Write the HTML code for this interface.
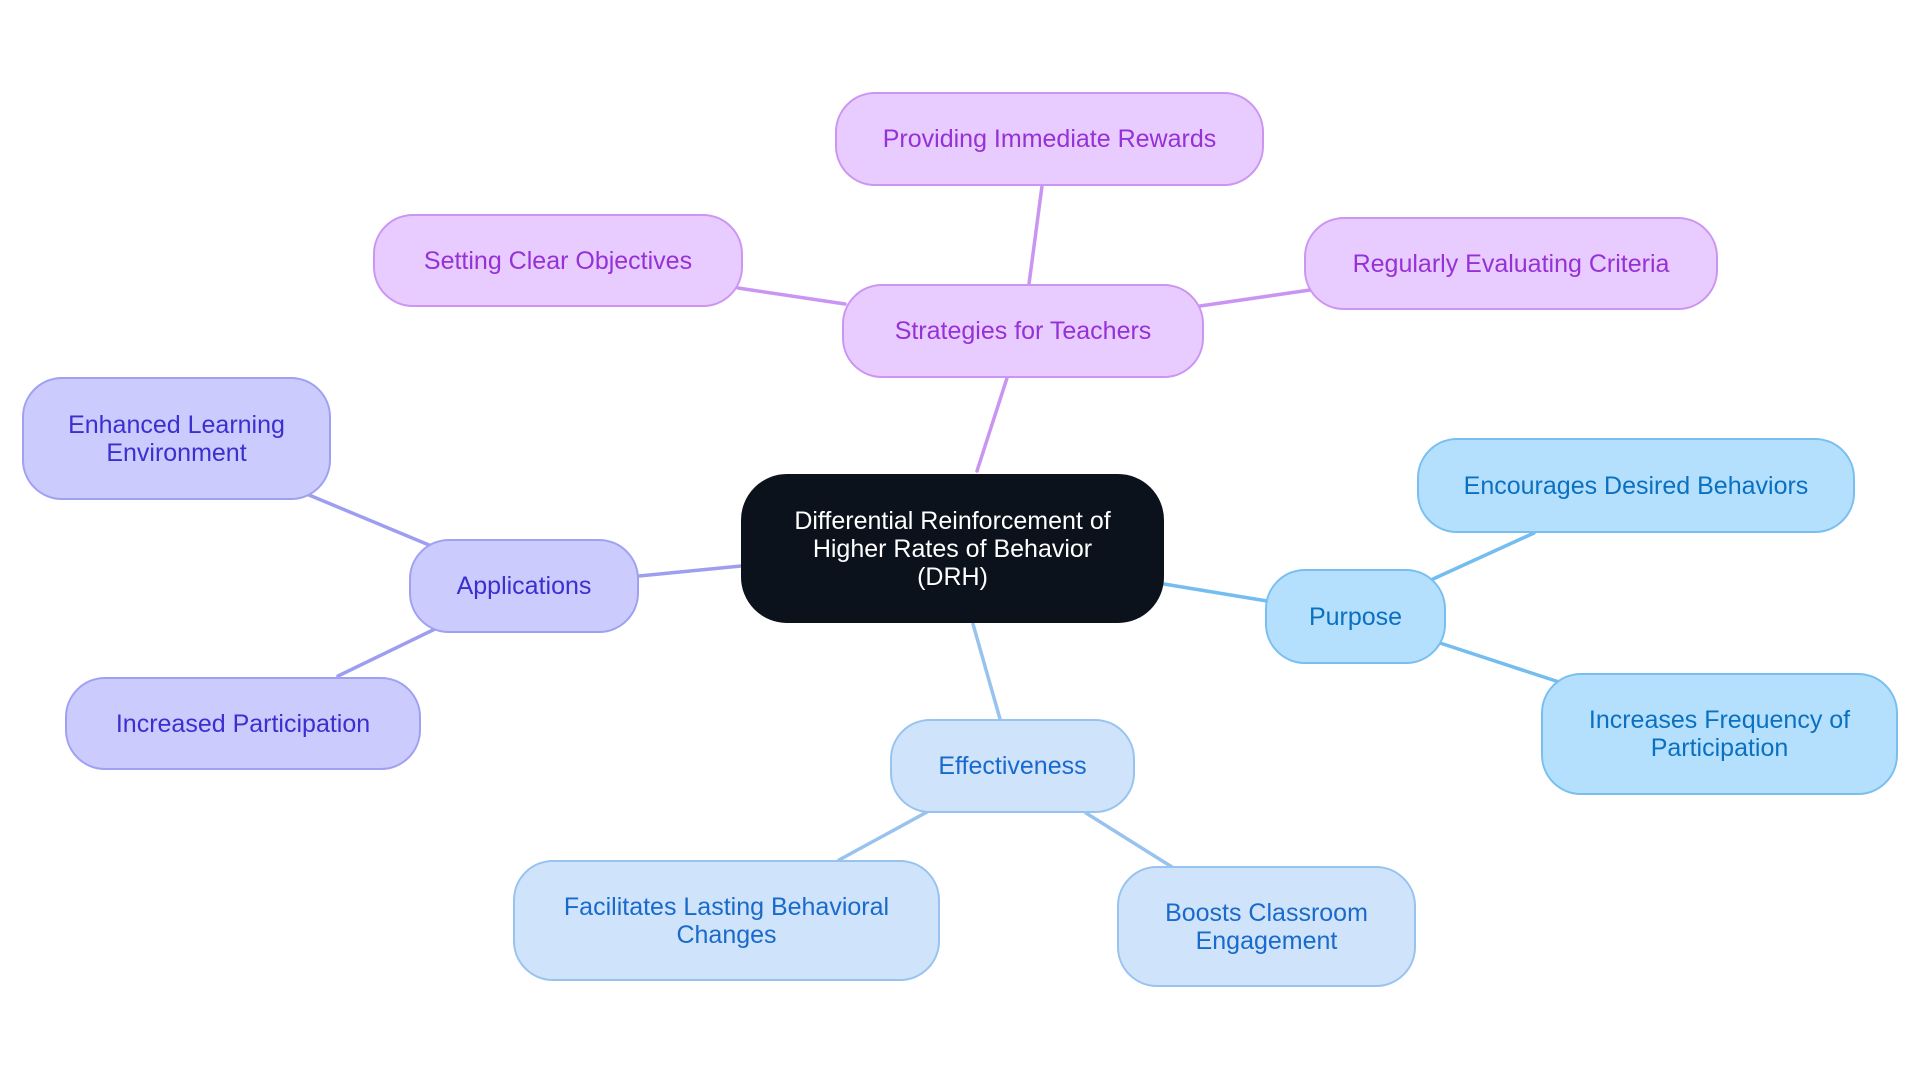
<!DOCTYPE html>
<html><head><meta charset="utf-8"><style>
html,body{margin:0;padding:0;background:#fff;}
body{width:1920px;height:1083px;position:relative;overflow:hidden;font-family:"Liberation Sans",sans-serif;}
svg{position:absolute;left:0;top:0;}
.n{position:absolute;box-sizing:border-box;display:flex;align-items:center;justify-content:center;text-align:center;font-size:25px;line-height:28px;border-radius:40px;border:2px solid;}
.p{background:#e8ccff;border-color:#cc95f2;color:#9531d6;}
.i{background:#cbcbfd;border-color:#a0a0f2;color:#3b2fcf;}
.b{background:#b5e0fd;border-color:#78bff0;color:#0b70c0;}
.l{background:#cfe3fb;border-color:#98c3ef;color:#196acb;}
.c{background:#0b121b;border-color:#0b121b;color:#fff;border-radius:46px;}
</style></head><body>
<svg width="1920" height="1083" stroke-width="3.5" fill="none" stroke-linecap="round">
<g stroke="#c995f2">
<line x1="977" y1="471" x2="1007" y2="378"/>
<line x1="1029" y1="284" x2="1042" y2="186"/>
<line x1="845" y1="304" x2="738" y2="288"/>
<line x1="1200" y1="306" x2="1310" y2="290"/>
</g>
<g stroke="#9e9ef0">
<line x1="741" y1="566" x2="639" y2="576"/>
<line x1="429" y1="545" x2="309" y2="495"/>
<line x1="435" y1="629" x2="338" y2="676"/>
</g>
<g stroke="#74bdef">
<line x1="1164" y1="584" x2="1267" y2="601"/>
<line x1="1433" y1="579" x2="1534" y2="533"/>
<line x1="1440" y1="643" x2="1559" y2="682"/>
</g>
<g stroke="#98c3ef">
<line x1="973" y1="624" x2="1000" y2="719"/>
<line x1="927" y1="812" x2="839" y2="860"/>
<line x1="1086" y1="813" x2="1172" y2="867"/>
</g>
</svg>
<div class="n c" style="left:741px;top:474px;width:423px;height:149px;">Differential Reinforcement of<br>Higher Rates of Behavior<br>(DRH)</div>
<div class="n p" style="left:842px;top:284px;width:362px;height:94px;">Strategies for Teachers</div>
<div class="n p" style="left:835px;top:92px;width:429px;height:94px;">Providing Immediate Rewards</div>
<div class="n p" style="left:373px;top:214px;width:370px;height:93px;">Setting Clear Objectives</div>
<div class="n p" style="left:1304px;top:217px;width:414px;height:93px;">Regularly Evaluating Criteria</div>
<div class="n i" style="left:409px;top:539px;width:230px;height:94px;">Applications</div>
<div class="n i" style="left:22px;top:377px;width:309px;height:123px;">Enhanced Learning<br>Environment</div>
<div class="n i" style="left:65px;top:677px;width:356px;height:93px;">Increased Participation</div>
<div class="n b" style="left:1265px;top:569px;width:181px;height:95px;">Purpose</div>
<div class="n b" style="left:1417px;top:438px;width:438px;height:95px;">Encourages Desired Behaviors</div>
<div class="n b" style="left:1541px;top:673px;width:357px;height:122px;">Increases Frequency of<br>Participation</div>
<div class="n l" style="left:890px;top:719px;width:245px;height:94px;">Effectiveness</div>
<div class="n l" style="left:513px;top:860px;width:427px;height:121px;">Facilitates Lasting Behavioral<br>Changes</div>
<div class="n l" style="left:1117px;top:866px;width:299px;height:121px;">Boosts Classroom<br>Engagement</div>
</body></html>
